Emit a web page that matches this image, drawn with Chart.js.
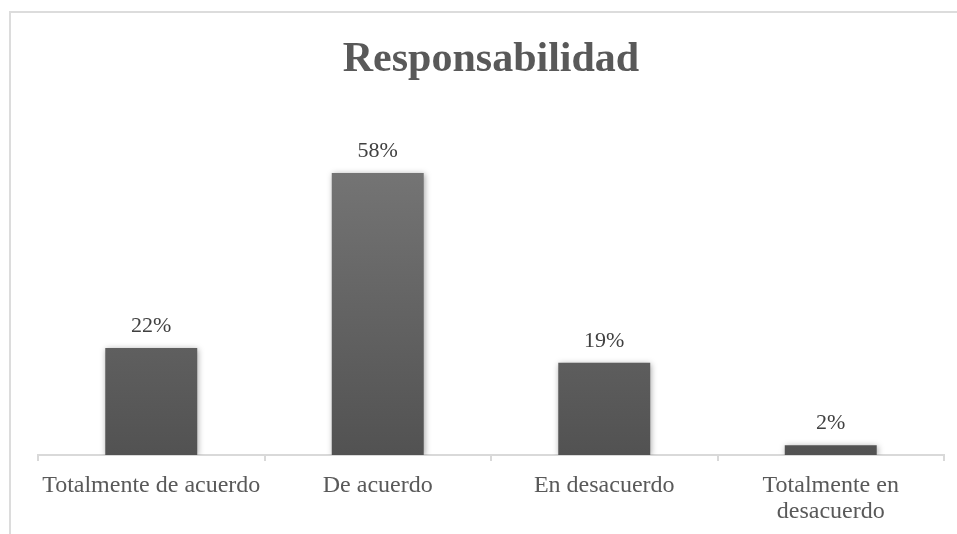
<!DOCTYPE html>
<html>
<head>
<meta charset="utf-8">
<script src="https://cdn.jsdelivr.net/npm/chart.js@4/dist/chart.umd.min.js"></script>
<style>
  html, body { margin: 0; padding: 0; background: #fff; overflow: hidden; }
  #marco {
    position: absolute; left: 9px; top: 11px; width: 1000px; height: 600px;
    border-left: 2px solid #dcdcdc; border-top: 2px solid #dcdcdc;
  }
  #wrap { position: absolute; left: 0; top: 0; width: 957px; height: 534px; }
</style>
</head>
<body>
<div id="marco"></div>
<div id="wrap"><canvas id="responsabilidad"></canvas></div>
<script>
const categorias = ['Totalmente de acuerdo', 'De acuerdo', 'En desacuerdo', ['Totalmente en', 'desacuerdo']];
const porcentajes = [22, 58, 19, 2];

const fuente = "'Liberation Serif', 'Times New Roman', serif";

// sombra suave alrededor de las barras
const sombraBarras = {
  id: 'sombraBarras',
  beforeDatasetsDraw(chart) {
    const ctx = chart.ctx;
    ctx.save();
    ctx.shadowColor = 'rgba(0, 0, 0, 0.35)';
    ctx.shadowBlur = 6;
    ctx.shadowOffsetX = 1;
    ctx.shadowOffsetY = 1;
  },
  afterDatasetsDraw(chart) {
    chart.ctx.restore();
  }
};

// porcentaje encima de cada barra
const etiquetas = {
  id: 'etiquetas',
  afterDatasetsDraw(chart) {
    const ctx = chart.ctx;
    const meta = chart.getDatasetMeta(0);
    ctx.save();
    ctx.font = '22px ' + fuente;
    ctx.fillStyle = '#404040';
    ctx.textAlign = 'center';
    ctx.textBaseline = 'alphabetic';
    meta.data.forEach((barra, i) => {
      ctx.fillText(porcentajes[i] + '%', barra.x, barra.y - 16);
    });
    ctx.restore();
  }
};

const grafico = document.getElementById('responsabilidad');

new Chart(grafico, {
  type: 'bar',
  data: {
    labels: categorias,
    datasets: [{
      data: porcentajes,
      backgroundColor: (c) => {
        const area = c.chart.chartArea;
        if (!area) return '#636363';
        const g = c.chart.ctx.createLinearGradient(0, c.chart.scales.y.getPixelForValue(58), 0, area.bottom);
        g.addColorStop(0, '#747474');
        g.addColorStop(1, '#525252');
        return g;
      },
      borderWidth: 0,
      categoryPercentage: 1,
      barPercentage: 0.406
    }]
  },
  plugins: [sombraBarras, etiquetas],
  options: {
    responsive: true,
    maintainAspectRatio: false,
    animation: false,
    layout: {
      padding: { left: 38, right: 13, top: 0, bottom: 0 }
    },
    plugins: {
      legend: { display: false },
      tooltip: { enabled: false },
      title: {
        display: true,
        text: 'Responsabilidad',
        color: '#595959',
        font: { family: fuente, size: 42, weight: 'bold' },
        padding: { top: 35, bottom: 5 }
      }
    },
    scales: {
      x: {
        // alto fijo para dejar el eje en su sitio
        afterFit(scale) {
          scale.height = 79;
        },
        grid: {
          drawOnChartArea: false,
          drawTicks: true,
          tickLength: 6,
          color: '#d9d9d9',
          lineWidth: 2
        },
        border: { display: true, color: '#d9d9d9', width: 2 },
        ticks: {
          color: '#595959',
          font: { family: fuente, size: 24, lineHeight: 1.08 },
          maxRotation: 0,
          padding: 12
        }
      },
      y: {
        display: false,
        beginAtZero: true,
        min: 0,
        max: 75
      }
    }
  }
});
</script>
</body>
</html>
